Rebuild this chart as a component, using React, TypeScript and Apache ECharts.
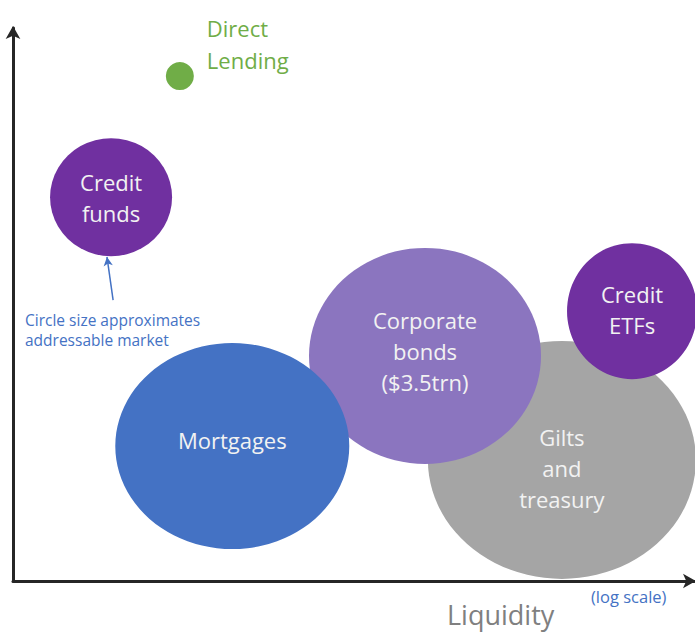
import React, { useEffect, useRef } from "react";
import * as echarts from "echarts";

// Bubble categories (drawn back to front)
const names = ["Gilts\nand\ntreasury", "Corporate\nbonds\n($3.5trn)", "Mortgages", "Credit\nETFs", "Credit\nfunds", "Direct Lending"];
// Liquidity position (x, log-scale axis, relative units 0-100)
const liquidity = [80.6, 60.5, 32.2, 90.9, 14.4, 24.5];
// Vertical position (relative units 0-100)
const vertical = [21.9, 40.7, 24.4, 48.8, 69.4, 91.3];
// Approximate addressable market (bubble width / height in px)
const bubbleW = [268, 232, 234, 130, 122, 28];
const bubbleH = [238, 216, 206, 136, 118, 28];
const colors = ["#A5A5A5", "#8B75BF", "#4472C4", "#7030A0", "#7030A0", "#70AD47"];
const labelShift = [8, -5, -6, -2, 0, 0];

const FONT = "'Open Sans', Lato, sans-serif";

export default function App() {
  const ref = useRef<HTMLDivElement>(null);
  useEffect(() => {
    if (!ref.current) return;
    const chart = echarts.init(ref.current, undefined, { renderer: "svg" });
    const data = names.map((n, i) => {
      const isDL = n === "Direct Lending";
      return {
        name: n,
        value: [liquidity[i], vertical[i]],
        symbolSize: [bubbleW[i], bubbleH[i]],
        itemStyle: { color: colors[i], opacity: 1 },
        label: isDL
          ? {
              show: true,
              formatter: "Direct\nLending",
              position: "right",
              distance: 13,
              offset: [0, -32],
              color: "#70AD47",
              fontSize: 22,
              lineHeight: 32,
              fontFamily: FONT,
              align: "left",
            }
          : {
              show: true,
              formatter: n,
              position: "inside",
              offset: [0, labelShift[i]],
              color: "#F2F2F2",
              fontSize: 22,
              lineHeight: 31,
              fontFamily: FONT,
            },
      };
    });
    chart.setOption({
      animation: false,
      grid: { left: 13, right: 1, top: 28, bottom: 52, containLabel: false },
      xAxis: {
        type: "value",
        min: 0,
        max: 100,
        axisLine: {
          show: true,
          onZero: false,
          symbol: ["none", "arrow"],
          symbolSize: [11, 13],
          symbolOffset: [0, 2],
          lineStyle: { color: "#262626", width: 3 },
        },
        axisTick: { show: false },
        axisLabel: { show: false },
        splitLine: { show: false },
      },
      yAxis: {
        type: "value",
        min: 0,
        max: 100,
        axisLine: {
          show: true,
          onZero: false,
          symbol: ["none", "arrow"],
          symbolSize: [11, 13],
          symbolOffset: [0, 2],
          lineStyle: { color: "#262626", width: 3 },
        },
        axisTick: { show: false },
        axisLabel: { show: false },
        splitLine: { show: false },
      },
      series: [
        {
          type: "scatter",
          symbol: "circle",
          clip: false,
          data,
          markLine: {
            silent: true,
            symbol: ["none", "arrow"],
            symbolSize: [7, 9],
            label: { show: false },
            lineStyle: { color: "#4472C4", width: 1.5, type: "solid" },
            data: [[{ coord: [14.7, 50.8] }, { coord: [13.8, 58.6] }]],
          },
        },
      ],
      graphic: [
        {
          type: "text",
          left: 25,
          top: 310,
          style: {
            text: "Circle size approximates\naddressable market",
            fill: "#4472C4",
            font: `15.5px ${FONT}`,
            lineHeight: 20,
            align: "center",
          },
        },
        {
          type: "text",
          left: 591,
          top: 588,
          style: { text: "(log scale)", fill: "#4472C4", font: `16.5px ${FONT}` },
        },
        {
          type: "text",
          left: 447,
          top: 601,
          style: { text: "Liquidity", fill: "#808080", font: `27px ${FONT}` },
        },
      ],
    });
    return () => chart.dispose();
  }, []);
  return (
    <div
      ref={ref}
      style={{ position: "fixed", left: 0, top: 0, width: 695, height: 633, background: "#fff" }}
    />
  );
}
